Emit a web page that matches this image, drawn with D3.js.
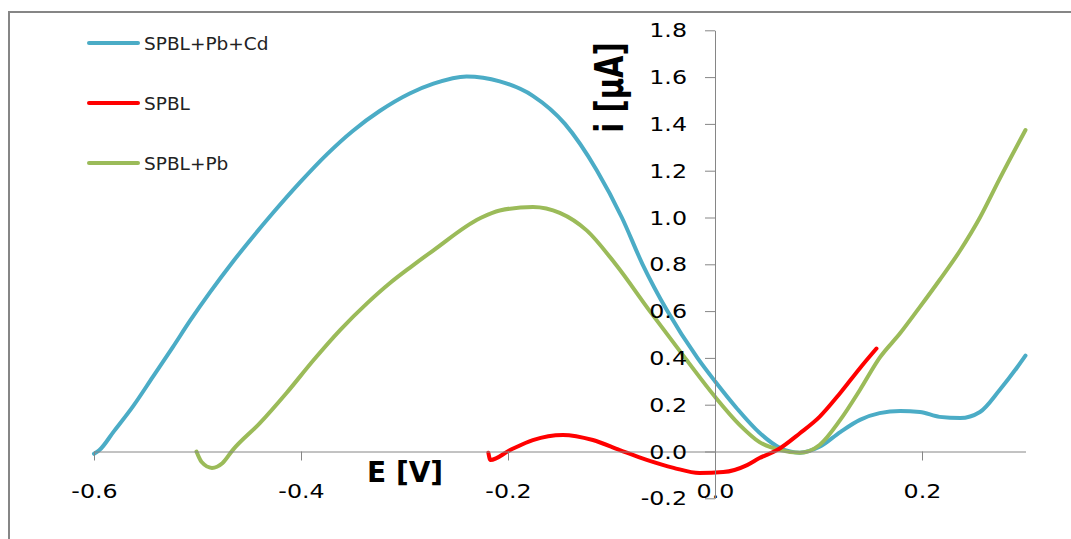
<!DOCTYPE html>
<html>
<head>
<meta charset="utf-8">
<script src="https://cdn.jsdelivr.net/npm/d3@7"></script>
<style>
  body { margin: 0; background: #fff; }
  svg { display: block; }
</style>
</head>
<body>
<svg id="chart" width="1071" height="539"></svg>
<script>
// values: E [V] and i [uA]
const seriesNames = ["SPBL+Pb+Cd", "SPBL", "SPBL+Pb"];

const cdE = [-0.600, -0.595, -0.581, -0.562, -0.543, -0.524, -0.507, -0.488, -0.466, -0.446,
  -0.427, -0.401, -0.375, -0.350, -0.324, -0.295, -0.272, -0.240, -0.208, -0.176,
  -0.145, -0.114, -0.090, -0.070, -0.046, -0.017, 0.000, 0.021, 0.043,
  0.063, 0.082, 0.101, 0.121, 0.140, 0.159, 0.179, 0.198, 0.217, 0.237,
  0.256, 0.275, 0.292, 0.300];
const cdI = [-0.01, 0.005, 0.085, 0.195, 0.32, 0.445, 0.56, 0.68, 0.81, 0.92,
  1.02, 1.15, 1.27, 1.37, 1.455, 1.53, 1.572, 1.603, 1.582, 1.52,
  1.40, 1.20, 1.00, 0.80, 0.60, 0.40, 0.30, 0.185, 0.08,
  0.015, -0.005, 0.02, 0.083, 0.135, 0.164, 0.173, 0.169, 0.148, 0.143,
  0.169, 0.263, 0.36, 0.41];

const blankE = [-0.219, -0.217, -0.198, -0.176, -0.147, -0.118, -0.092, -0.066, -0.040, -0.015,
  0.008, 0.031, 0.043, 0.060, 0.082, 0.101, 0.121, 0.140, 0.156];
const blankI = [-0.005, -0.036, 0.006, 0.049, 0.071, 0.049, 0.006, -0.036, -0.07, -0.092,
  -0.088, -0.058, -0.028, 0.006, 0.078, 0.148, 0.25, 0.356, 0.44];

const pbE = [-0.501, -0.496, -0.486, -0.476, -0.466, -0.440, -0.414, -0.388, -0.362, -0.336,
  -0.314, -0.295, -0.272, -0.227, -0.208, -0.176, -0.150, -0.124, -0.096, -0.063,
  -0.029, 0.000, 0.024, 0.043, 0.063, 0.082, 0.101, 0.121,
  0.140, 0.159, 0.179, 0.198, 0.217, 0.237, 0.256, 0.275, 0.300];
const pbI = [0.00, -0.045, -0.07, -0.05, 0.006, 0.12, 0.25, 0.39, 0.52, 0.634,
  0.72, 0.785, 0.86, 0.997, 1.03, 1.045, 1.02, 0.945, 0.80, 0.60,
  0.40, 0.234, 0.113, 0.04, 0.006, -0.005, 0.028, 0.135,
  0.263, 0.40, 0.506, 0.618, 0.733, 0.86, 1.00, 1.165, 1.374];

const xTicks = [-0.6, -0.4, -0.2, 0.0, 0.2];
const yTicks = [-0.2, 0.0, 0.2, 0.4, 0.6, 0.8, 1.0, 1.2, 1.4, 1.6, 1.8];

const colors = { "SPBL+Pb+Cd": "#4bacc6", "SPBL": "#ff0000", "SPBL+Pb": "#9bbb59" };
const axisGray = "#868686";

const series = [
  { name: seriesNames[0], pts: cdE.map((e, k) => [e, cdI[k]]) },
  { name: seriesNames[1], pts: blankE.map((e, k) => [e, blankI[k]]) },
  { name: seriesNames[2], pts: pbE.map((e, k) => [e, pbI[k]]) },
];

const svg = d3.select("#chart");

// outer frame
svg.append("rect")
  .attr("x", 9).attr("y", 12)
  .attr("width", 1200).attr("height", 700)
  .attr("fill", "none")
  .attr("stroke", axisGray)
  .attr("stroke-width", 2);

const x = d3.scaleLinear().domain([-0.6, 0.3]).range([94, 1025.5]);
const y = d3.scaleLinear().domain([-0.2, 1.8]).range([498.3, 30.3]);

const line = d3.line()
  .x((d) => x(d[0]))
  .y((d) => y(d[1]))
  .curve(d3.curveMonotoneX);

// curves (blue, green, then red on top)
[series[0], series[2], series[1]].forEach((s) => {
  svg.append("path")
    .datum(s.pts)
    .attr("d", line)
    .attr("fill", "none")
    .attr("stroke", colors[s.name])
    .attr("stroke-width", 4)
    .attr("stroke-linejoin", "round")
    .attr("stroke-linecap", "round");
});

const fmt = (d) => d.toFixed(1);

// x axis at i = 0
const gx = svg.append("g")
  .attr("transform", `translate(0,${y(0)})`)
  .call(d3.axisBottom(x).tickValues(xTicks).tickSize(9).tickSizeOuter(0).tickFormat(fmt));

// y axis at E = 0
const gy = svg.append("g")
  .attr("transform", `translate(${x(0)},0)`)
  .call(d3.axisLeft(y).tickValues(yTicks).tickSize(10).tickSizeOuter(0).tickFormat(fmt));

[gx, gy].forEach((g) => {
  g.select(".domain").attr("stroke", axisGray);
  g.selectAll(".tick line").attr("stroke", axisGray);
  g.selectAll(".tick text")
    .attr("fill", "#000")
    .style("font-family", "DejaVu Sans")
    .style("font-size", "19px");
});

gx.selectAll(".tick text")
  .attr("y", null).attr("dy", null)
  .attr("transform", "translate(0,46) scale(1.25,1)");

gy.selectAll(".tick text")
  .attr("x", null).attr("dy", null)
  .attr("transform", "translate(-28,6.5) scale(1.25,1)");

// axis titles
svg.append("text")
  .attr("x", 367).attr("y", 482)
  .style("font-family", "DejaVu Sans")
  .style("font-weight", "bold")
  .style("font-size", "28px")
  .attr("fill", "#000")
  .text("E [V]");

svg.append("text")
  .attr("transform", "translate(623,87.5) scale(1.35,1) rotate(-90)")
  .attr("text-anchor", "middle")
  .style("font-family", "DejaVu Sans")
  .style("font-weight", "bold")
  .style("font-size", "29px")
  .attr("fill", "#000")
  .text("i [µA]");

// legend
const legendY = [43, 103, 163];
seriesNames.forEach((name, k) => {
  svg.append("line")
    .attr("x1", 89).attr("x2", 138)
    .attr("y1", legendY[k]).attr("y2", legendY[k])
    .attr("stroke", colors[name])
    .attr("stroke-width", 4)
    .attr("stroke-linecap", "round");
  svg.append("text")
    .attr("x", 144).attr("y", legendY[k] + 7)
    .style("font-family", "DejaVu Sans")
    .style("font-size", "18.5px")
    .attr("fill", "#222")
    .text(name);
});
</script>
</body>
</html>
